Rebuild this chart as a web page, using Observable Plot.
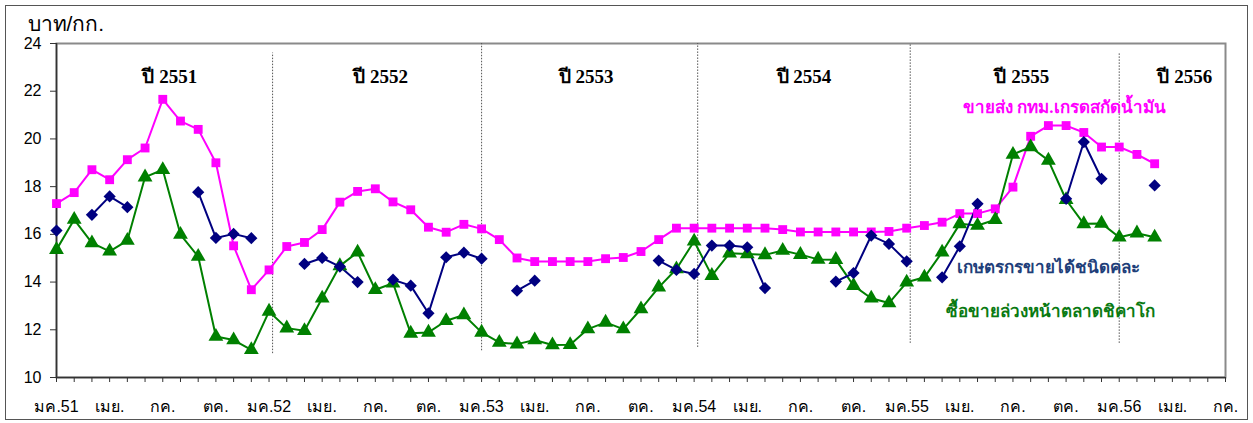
<!DOCTYPE html>
<html><head><meta charset="utf-8">
<script src="https://cdn.jsdelivr.net/npm/d3@7"></script>
<script src="https://cdn.jsdelivr.net/npm/@observablehq/plot@0.6"></script>
<style>
body{margin:0;background:#fff;}
#wrap{position:relative;width:1253px;height:423px;overflow:hidden;}
#wrap svg{position:absolute;left:0;top:0;}
#border{position:absolute;left:5px;top:5px;width:1241px;height:413px;border:1.5px solid #555;pointer-events:none;z-index:2;}
</style></head>
<body><div id="wrap"><div id="border"></div></div>
<script>
// Month index 0 = มค.51 (Jan 2551) ... 62 = มี.ค.56
const wholesale = [17.29,17.75,18.71,18.29,19.13,19.62,21.66,20.75,20.40,19.00,15.52,13.68,14.51,15.49,15.66,16.20,17.35,17.80,17.91,17.36,17.03,16.30,16.09,16.42,16.23,15.78,15.01,14.86,14.86,14.86,14.86,14.98,15.03,15.28,15.78,16.26,16.26,16.26,16.26,16.26,16.26,16.20,16.10,16.10,16.10,16.10,16.10,16.12,16.26,16.37,16.51,16.87,16.87,17.07,17.98,20.11,20.56,20.56,20.27,19.66,19.66,19.35,18.96];
const farmer = [16.16,null,16.82,17.59,17.14,null,null,null,17.77,15.85,16.02,15.84,null,null,14.76,15.01,14.65,14.00,null,14.10,13.85,12.69,15.04,15.23,14.98,null,13.64,14.06,null,null,null,null,null,null,14.90,14.51,14.34,15.53,15.53,15.46,13.75,null,null,null,14.02,14.38,15.95,15.60,14.87,null,14.20,15.50,17.28,null,null,null,null,17.49,19.87,18.33,null,null,18.05];
const chicago = [15.36,16.62,15.64,15.29,15.74,18.40,18.71,15.99,15.07,11.72,11.57,11.16,12.77,12.07,11.96,13.32,14.68,15.25,13.68,13.95,11.85,11.89,12.38,12.62,11.89,11.47,11.40,11.57,11.36,11.37,12.03,12.31,12.03,12.87,13.78,14.55,15.71,14.27,15.21,15.18,15.14,15.32,15.15,14.95,14.94,13.85,13.32,13.12,13.99,14.20,15.25,16.44,16.37,16.61,19.35,19.66,19.10,17.45,16.44,16.46,15.88,16.05,15.88];

const tickLabels = ["มค.51","เมย.","กค.","ตค.","มค.52","เมย.","กค.","ตค.","มค.53","เมย.","กค.","ตค.","มค.54","เมย.","กค.","ตค.","มค.55","เมย.","กค.","ตค.","มค.56","เมย.","กค."];
const yTicks = [10,12,14,16,18,20,22,24];
const yearNames = ["ปี 2551","ปี 2552","ปี 2553","ปี 2554","ปี 2555","ปี 2556"];
const yearPos = [6.4,18.3,29.9,42.2,54.5,63.7];
const dividerX = [12.2,24.0,36.2,48.2,60.0];
const dividerTop = [23.6,24,24,24,23.6];
const dividerBottom = [11.0,11.12,11.26,11.43,11.43];
const seriesNames = ["ขายส่ง กทม.เกรดสกัดน้ำมัน","เกษตรกรขายได้ชนิดคละ","ซื้อขายล่วงหน้าตลาดชิคาโก"];
const seriesColors = ["#ff00ff","#000080","#008000"];
const labelColors = ["#ff00ff","#1f3f7a","#0a7a12"];
const labelPos = [[56.9,21.32],[56.0,14.6],[56.1,12.76]];

const toRows = arr => arr.map((v,i)=>({m:i, v: v==null ? NaN : v}));
const rowsW = toRows(wholesale), rowsF = toRows(farmer), rowsC = toRows(chicago);
const years = yearNames.map((t,i)=>({t, x:yearPos[i]}));
const dividers = dividerX.map((x,i)=>({x, y1:dividerBottom[i], y2:dividerTop[i]}));
const slabels = seriesNames.map((t,i)=>({t, x:labelPos[i][0], y:labelPos[i][1], c:labelColors[i]}));

const serifBold = "'Liberation Serif','Times New Roman',serif";

const chart = Plot.plot({
  width:1253, height:423,
  marginLeft:56, marginRight:28, marginTop:43, marginBottom:46,
  x:{domain:[0,66]},
  y:{domain:[10,24]},
  style:{fontFamily:"Arial,'Liberation Sans',sans-serif", fontSize:"16px", color:"#000", background:"transparent"},
  marks:[
    Plot.frame({stroke:"#8a8a8a", strokeWidth:2}),
    Plot.ruleX(dividers, {x:"x", y1:"y1", y2:"y2", stroke:"#555", strokeWidth:1, strokeDasharray:"1.5,1.5"}),
    Plot.axisY(yTicks, {tickSize:6, tickPadding:9, label:null, fontSize:16, stroke:"#333"}),
    Plot.axisX(d3.range(0,67), {tickSize:5, tickPadding:18, label:null, fontSize:16, stroke:"#333",
      tickFormat: i => i % 3 ? "" : tickLabels[i/3]}),
    Plot.ruleX([0], {stroke:"#333", strokeWidth:1.5}),
    Plot.ruleY([10], {stroke:"#333", strokeWidth:1.5}),
    Plot.line(rowsW, {x:"m", y:"v", stroke:seriesColors[0], strokeWidth:2}),
    Plot.line(rowsC, {x:"m", y:"v", stroke:seriesColors[2], strokeWidth:2}),
    Plot.line(rowsF, {x:"m", y:"v", stroke:seriesColors[1], strokeWidth:2}),
    Plot.dot(rowsW, {x:"m", y:"v", symbol:"square", r:5, fill:seriesColors[0], stroke:"none"}),
    Plot.dot(rowsC, {x:"m", y:"v", symbol:"triangle", r:5.5, fill:seriesColors[2], stroke:"none"}),
    Plot.dot(rowsF, {x:"m", y:"v", symbol:"diamond2", r:5.5, fill:seriesColors[1], stroke:"none"}),
    Plot.text(years, {x:"x", y:22.6, text:"t", fontFamily:serifBold, fontWeight:"bold", fontSize:19, fill:"#000"}),
    Plot.text(slabels, {x:"x", y:"y", text:"t", fill:"c", fontWeight:"bold", fontSize:17, fontFamily:serifBold}),
    Plot.text(["บาท/กก."], {frameAnchor:"top-left", lineAnchor:"middle", dx:-29, dy:-19, textAnchor:"start", fontSize:21, fill:"#000"})
  ]
});
document.getElementById("wrap").appendChild(chart);
</script>
</body></html>
